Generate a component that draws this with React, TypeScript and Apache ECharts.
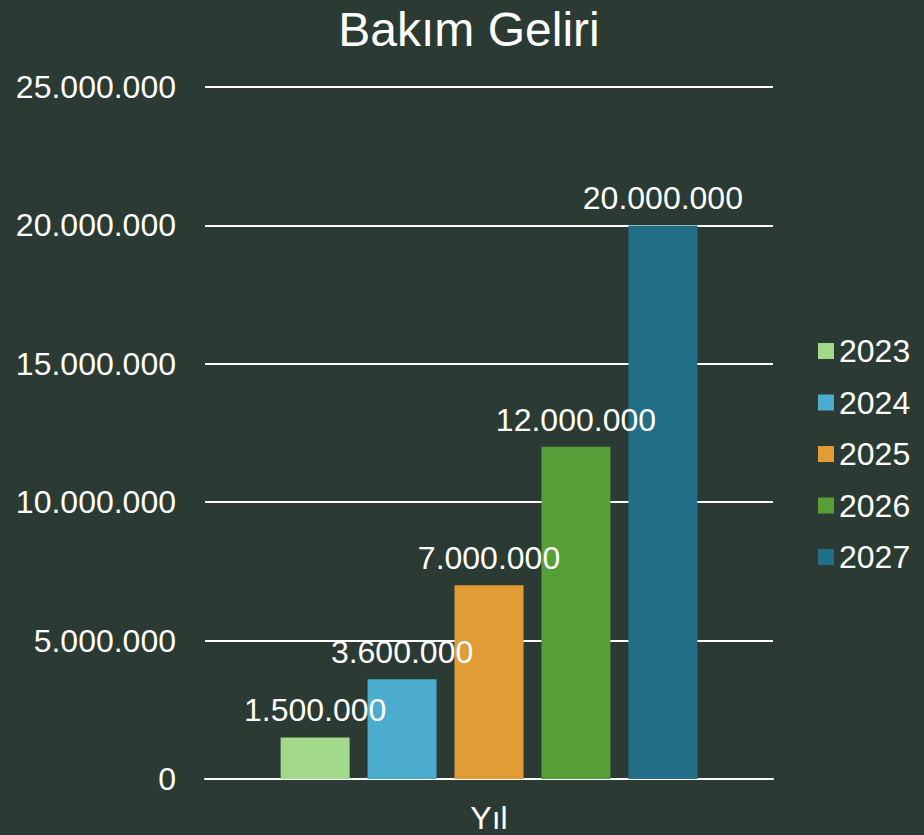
import React, { useEffect, useRef } from "react";
import * as echarts from "echarts";

const categories = ["Yıl"];
const seriesNames = ["2023", "2024", "2025", "2026", "2027"];
const seriesValues = [1500000, 3600000, 7000000, 12000000, 20000000];
const seriesColors = ["#a3d98a", "#4bacce", "#e29c35", "#569e37", "#236e87"];

const fmt = (v: number) => String(v).replace(/\B(?=(\d{3})+(?!\d))/g, ".");
const FONT = "'Liberation Sans', Arial, sans-serif";

export default function App() {
  const ref = useRef<HTMLDivElement>(null);
  useEffect(() => {
    document.body.style.margin = "0";
    const chart = echarts.init(ref.current!, undefined, { renderer: "svg" });
    chart.setOption({
      animation: false,
      backgroundColor: "#2b3a33",
      textStyle: { fontFamily: FONT },
      title: {
        text: "Bakım Geliri",
        left: 464,
        textAlign: "center",
        top: 0,
        textStyle: { color: "#ffffff", fontSize: 48, fontWeight: "normal", fontFamily: FONT },
      },
      legend: {
        orient: "vertical",
        left: 813,
        top: 330,
        itemWidth: 16,
        itemHeight: 16,
        itemGap: 19.5,
        icon: "rect",
        textStyle: { color: "#ffffff", fontSize: 32, lineHeight: 32, fontFamily: FONT },
        data: seriesNames,
      },
      grid: { left: 205, right: 151, top: 87, bottom: 56 },
      xAxis: {
        type: "category",
        data: categories,
        axisLine: { lineStyle: { color: "#ffffff", width: 2 } },
        axisTick: { show: false },
        axisLabel: { color: "#ffffff", fontSize: 32, margin: 23, fontFamily: FONT },
      },
      yAxis: {
        type: "value",
        min: 0,
        max: 25000000,
        interval: 5000000,
        axisLine: { show: false },
        axisTick: { show: false },
        axisLabel: { color: "#ffffff", fontSize: 32, margin: 29, formatter: fmt, fontFamily: FONT },
        splitLine: { lineStyle: { color: "#ffffff", width: 2 } },
      },
      series: seriesNames.map((name, i) => ({
        name,
        type: "bar",
        data: [seriesValues[i]],
        barWidth: 69,
        barGap: "26%",
        itemStyle: { color: seriesColors[i] },
        label: {
          show: true,
          position: "top",
          distance: 11,
          color: "#ffffff",
          fontSize: 32,
          fontFamily: FONT,
          formatter: (p: any) => fmt(p.value),
        },
      })),
    });
    return () => chart.dispose();
  }, []);
  return <div ref={ref} style={{ width: 924, height: 835 }} />;
}
